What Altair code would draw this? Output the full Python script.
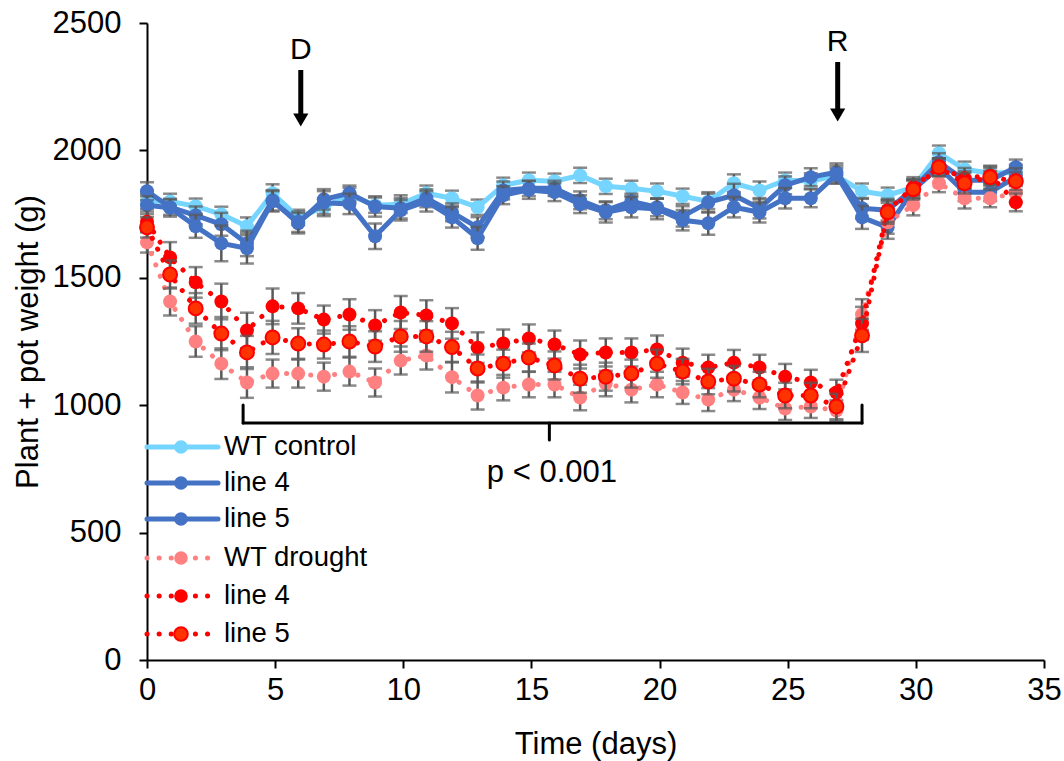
import altair as alt
import pandas as pd

# ---------------- data ----------------
days = [0, 0.9, 1.9, 2.9, 3.9, 4.9, 5.9, 6.9, 7.9, 8.9, 9.9, 10.9, 11.9, 12.9, 13.9,
        14.9, 15.9, 16.9, 17.9, 18.9, 19.9, 20.9, 21.9, 22.9, 23.9, 24.9, 25.9, 26.9,
        27.9, 28.9, 29.9, 30.9, 31.9, 32.9, 33.9]

wt_control = [1800, 1800, 1781, 1749, 1702, 1832, 1737, 1777, 1824, 1785, 1789, 1832,
              1812, 1777, 1863, 1883, 1879, 1902, 1859, 1851, 1840, 1820, 1800, 1871,
              1843, 1883, 1880, 1900, 1840, 1824, 1855, 1989, 1926, 1910, 1914]
line4_control = [1840, 1777, 1745, 1710, 1635, 1804, 1714, 1808, 1832, 1780, 1773, 1812,
                 1757, 1698, 1843, 1851, 1851, 1804, 1765, 1800, 1777, 1741, 1796, 1824,
                 1773, 1863, 1895, 1914, 1773, 1765, 1850, 1954, 1883, 1883, 1934]
line5_control = [1785, 1775, 1702, 1635, 1616, 1800, 1720, 1795, 1790, 1663, 1765, 1800,
                 1737, 1655, 1824, 1845, 1836, 1789, 1757, 1777, 1770, 1726, 1714, 1777,
                 1757, 1812, 1812, 1905, 1737, 1698, 1845, 1934, 1836, 1836, 1895]
wt_drought = [1639, 1407, 1250, 1163, 1089, 1124, 1124, 1112, 1132, 1089, 1175, 1195,
              1110, 1038, 1069, 1081, 1081, 1030, 1085, 1061, 1081, 1050, 1022, 1061,
              1030, 987, 995, 979, 1356, 1718, 1785, 1871, 1812, 1812, 1832]
line4_drought = [1720, 1580, 1482, 1407, 1293, 1388, 1380, 1336, 1356, 1313, 1364, 1352,
                 1321, 1226, 1242, 1262, 1238, 1199, 1207, 1207, 1219, 1167, 1148, 1167,
                 1148, 1112, 1089, 1050, 1321, 1765, 1855, 1934, 1891, 1902, 1796]
line5_drought = [1698, 1513, 1380, 1281, 1207, 1266, 1242, 1238, 1250, 1230, 1270, 1270,
                 1228, 1144, 1163, 1187, 1156, 1104, 1112, 1124, 1163, 1132, 1093, 1104,
                 1081, 1038, 1038, 995, 1274, 1757, 1847, 1934, 1871, 1895, 1879]

err_wt_control = [30, 30, 30, 30, 35, 35, 30, 35, 30, 30, 35, 30, 30, 30, 30, 30, 30, 30,
                  30, 30, 30, 30, 30, 35, 35, 30, 30, 30, 30, 30, 30, 30, 30, 30, 30]
err_line4_control = [35, 30, 35, 45, 50, 40, 40, 40, 30, 40, 40, 35, 35, 40, 35, 30, 30, 35,
                     35, 30, 35, 40, 40, 45, 40, 35, 35, 35, 40, 40, 35, 35, 35, 35, 30]
err_line5_control = [35, 35, 45, 70, 60, 40, 40, 45, 40, 50, 40, 40, 40, 45, 35, 35, 35, 35,
                     40, 40, 40, 40, 45, 40, 40, 40, 35, 35, 45, 45, 35, 35, 35, 35, 35]
err_wt_drought = [40, 55, 60, 60, 60, 55, 55, 55, 55, 55, 55, 55, 60, 55, 50, 50, 50, 50,
                  50, 50, 50, 45, 45, 45, 45, 45, 45, 40, 60, 45, 40, 35, 40, 35, 35]
err_line4_drought = [40, 60, 60, 70, 70, 70, 60, 55, 60, 60, 65, 60, 60, 60, 55, 55, 55, 55,
                     55, 55, 55, 55, 50, 50, 50, 50, 50, 50, 65, 45, 40, 35, 40, 35, 35]
err_line5_drought = [40, 55, 60, 65, 65, 65, 60, 55, 60, 60, 60, 60, 60, 55, 55, 55, 55, 55,
                     55, 55, 55, 50, 50, 50, 50, 50, 50, 50, 65, 45, 40, 35, 40, 35, 35]

labels = ["WT control", "line 4", "line 5", "WT drought", "line 4", "line 5"]
values = [wt_control, line4_control, line5_control, wt_drought, line4_drought, line5_drought]
errors = [err_wt_control, err_line4_control, err_line5_control,
          err_wt_drought, err_line4_drought, err_line5_drought]

# styles
line_colors = ["#75D5FF", "#4472C4", "#4472C4", "#FF8080", "#FF0000", "#FF0000"]
fill_colors = ["#75D5FF", "#4472C4", "#4472C4", "#FF8080", "#FF0000", "#FF3300"]
dotted = [False, False, False, True, True, True]

FONT = "Liberation Sans"
DOT = [0.1, 12]

X_SCALE = alt.Scale(domain=[0, 35], nice=False, zero=False)
Y_SCALE = alt.Scale(domain=[0, 2500], nice=False)


def xenc(field="t"):
    return alt.X(f"{field}:Q", scale=X_SCALE, title="Time (days)",
                 axis=alt.Axis(values=[0, 5, 10, 15, 20, 25, 30, 35], format="d"))


def yenc(field):
    return alt.Y(f"{field}:Q", scale=Y_SCALE, title="Plant + pot weight (g)",
                 axis=alt.Axis(values=[0, 500, 1000, 1500, 2000, 2500], format="d"))


layers = []
for i in range(6):
    df = pd.DataFrame({"t": days, "w": values[i], "e": errors[i]})
    df["lo"] = df["w"] - df["e"]
    df["hi"] = df["w"] + df["e"]
    base = alt.Chart(df)
    layers.append(base.mark_rule(color="#595959", strokeWidth=2.5).encode(
        x=xenc(), y=yenc("lo"), y2="hi:Q"))
    for f in ("lo", "hi"):
        layers.append(base.mark_tick(color="#595959", thickness=2.5, size=14,
                                     orient="horizontal").encode(x=xenc(), y=yenc(f)))
    line_kw = dict(color=line_colors[i], strokeWidth=5, strokeCap="round", strokeJoin="round")
    if dotted[i]:
        line_kw["strokeDash"] = DOT
    layers.append(base.mark_line(**line_kw).encode(x=xenc(), y=yenc("w")))
    layers.append(base.mark_point(filled=True, size=195, opacity=1, fill=fill_colors[i],
                                  stroke=line_colors[i], strokeWidth=2 if i == 5 else 0).encode(
        x=xenc(), y=yenc("w")))

# ---------------- annotations ----------------
one = pd.DataFrame({"a": [0]})
arrow_days = [6, 26.95]
arrow_text = ["D", "R"]
text_y = [27, 19]
shaft_top = [47, 39]
shaft_bot = [94, 88]
head_y = [97, 92]
for k in range(2):
    d = pd.DataFrame({"t": [arrow_days[k]], "lab": [arrow_text[k]]})
    c = alt.Chart(d)
    layers.append(c.mark_text(font=FONT, fontSize=30, color="black", baseline="middle").encode(
        x=xenc(), y=alt.value(text_y[k]), text="lab:N"))
    layers.append(c.mark_rule(color="black", strokeWidth=5).encode(
        x=xenc(), y=alt.value(shaft_top[k]), y2=alt.value(shaft_bot[k])))
    layers.append(c.mark_point(shape="triangle-down", filled=True, color="black", size=230,
                               opacity=1).encode(x=xenc(), y=alt.value(head_y[k])))

# bracket with p-value
br_days = [3.75, 27.9]
br_mid = [15.7]
brd = pd.DataFrame({"t": [br_days[0]], "t2": [br_days[1]]})
layers.append(alt.Chart(brd).mark_rule(color="black", strokeWidth=3, strokeCap="round").encode(
    x=xenc(), x2="t2:Q", y=alt.value(400)))
for bd in br_days:
    layers.append(alt.Chart(pd.DataFrame({"t": [bd]})).mark_rule(
        color="black", strokeWidth=3, strokeCap="round").encode(
        x=xenc(), y=alt.value(382), y2=alt.value(400)))
layers.append(alt.Chart(pd.DataFrame({"t": br_mid})).mark_rule(
    color="black", strokeWidth=3, strokeCap="round").encode(
    x=xenc(), y=alt.value(400), y2=alt.value(417)))
layers.append(alt.Chart(pd.DataFrame({"t": [15.8], "lab": ["p < 0.001"]})).mark_text(
    font=FONT, fontSize=31, color="black", baseline="middle").encode(
    x=xenc(), y=alt.value(450), text="lab:N"))

# ---------------- manual legend ----------------
leg_y = [424, 460, 496, 535, 573, 611]
for i in range(6):
    c = alt.Chart(one)
    kw = dict(color=line_colors[i], strokeWidth=5, strokeCap="round")
    if dotted[i]:
        kw["strokeDash"] = DOT
    layers.append(c.mark_rule(**kw).encode(
        x=alt.value(0), x2=alt.value(71), y=alt.value(leg_y[i])))
    layers.append(c.mark_point(filled=True, size=185, opacity=1, fill=fill_colors[i],
                               stroke=line_colors[i], strokeWidth=2 if i == 5 else 0).encode(
        x=alt.value(34), y=alt.value(leg_y[i])))
    layers.append(c.mark_text(font=FONT, fontSize=27.5, color="black", align="left",
                              baseline="middle").encode(
        x=alt.value(77), y=alt.value(leg_y[i]), text=alt.value(labels[i])))

chart = alt.layer(*layers).properties(
    width=897, height=637,
    autosize=alt.AutoSizeParams(type="none"),
    padding={"left": 147, "top": 23, "right": 20, "bottom": 101},
    background="white",
).configure_view(stroke=None).configure_axis(
    grid=False, domainColor="black", domainWidth=2, tickColor="black", tickWidth=2,
    tickSize=8, labelFont=FONT, labelFontSize=31, labelColor="black",
    titleFont=FONT, titleFontSize=31, titleFontWeight="normal", titleColor="black",
).configure_axisX(labelPadding=7, titlePadding=24, labelFlush=False
).configure_axisY(labelPadding=18, titlePadding=8)

chart.save("out.html", embed_options={"renderer": "svg", "actions": False})
